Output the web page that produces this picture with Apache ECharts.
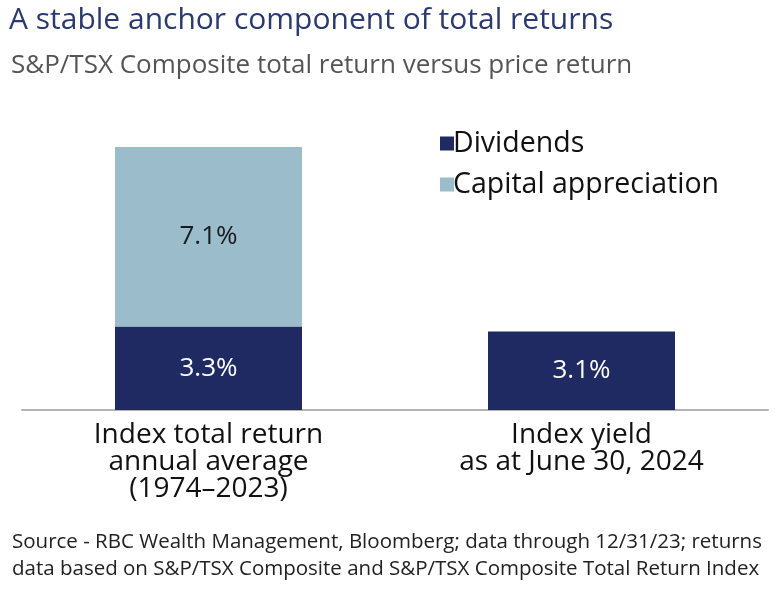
<!DOCTYPE html>
<html><head><meta charset="utf-8">
<script src="https://cdn.jsdelivr.net/npm/echarts@6/dist/echarts.min.js"></script>
<style>html,body{margin:0;padding:0;background:#fff}#c{width:784px;height:591px}</style>
</head><body><div id="c"></div>
<script>
const categories = ["Index total return\nannual average\n(1974–2023)", "Index yield\nas at June 30, 2024"];
const dividends = [3.3, 3.1];
const capitalAppreciation = [7.1, null];
const seriesNames = ["Dividends", "Capital appreciation"];
const titleText = "A stable anchor component of total returns";
const subtitleText = "S&P/TSX Composite total return versus price return";
const sourceText = "Source - RBC Wealth Management, Bloomberg; data through 12/31/23; returns\ndata based on S&P/TSX Composite and S&P/TSX Composite Total Return Index";

const FONT = "Open Sans";
const chart = echarts.init(document.getElementById('c'));
chart.setOption({
  animation: false,
  textStyle: { fontFamily: FONT },
  title: [
    { text: titleText, left: 4, top: 0, textStyle: { fontFamily: FONT, fontSize: 30, fontWeight: 'normal', color: '#2b3a6e' } },
    { text: subtitleText, left: 6, top: 48, textStyle: { fontFamily: FONT, fontSize: 26, fontWeight: 'normal', color: '#555555' } },
    { text: sourceText, left: 7, top: 524, textStyle: { fontFamily: FONT, fontSize: 20.5, fontWeight: 'normal', color: '#222222', lineHeight: 27 } }
  ],
  legend: {
    orient: 'vertical', left: 435, top: 124, itemWidth: 14, itemHeight: 14, itemGap: 12,
    icon: 'rect',
    data: seriesNames,
    textStyle: { fontFamily: FONT, fontSize: 28.5, color: '#111111', padding: [0, 0, 0, -6] }
  },
  grid: { left: 22, right: 16, top: 56, bottom: 181 },
  xAxis: {
    type: 'category', data: categories,
    axisLine: { lineStyle: { color: '#b3b3b3', width: 2 } },
    axisTick: { show: false },
    axisLabel: { fontFamily: FONT, fontSize: 28, color: '#111111', lineHeight: 27, margin: 12, interval: 0 }
  },
  yAxis: { type: 'value', min: 0, max: 14, show: false, splitLine: { show: false } },
  series: [
    {
      name: seriesNames[0], type: 'bar', stack: 'a', data: dividends, barWidth: 187,
      itemStyle: { color: '#1f2a63' },
      label: { show: true, position: 'inside', formatter: p => p.value.toFixed(1) + '%', color: '#ffffff', fontFamily: FONT, fontSize: 26 }
    },
    {
      name: seriesNames[1], type: 'bar', stack: 'a', data: capitalAppreciation, barWidth: 187,
      itemStyle: { color: '#9bbccb' },
      label: { show: true, position: 'inside', formatter: p => p.value == null ? '' : p.value.toFixed(1) + '%', color: '#1a1a1a', fontFamily: FONT, fontSize: 26 }
    }
  ]
});
</script></body></html>
